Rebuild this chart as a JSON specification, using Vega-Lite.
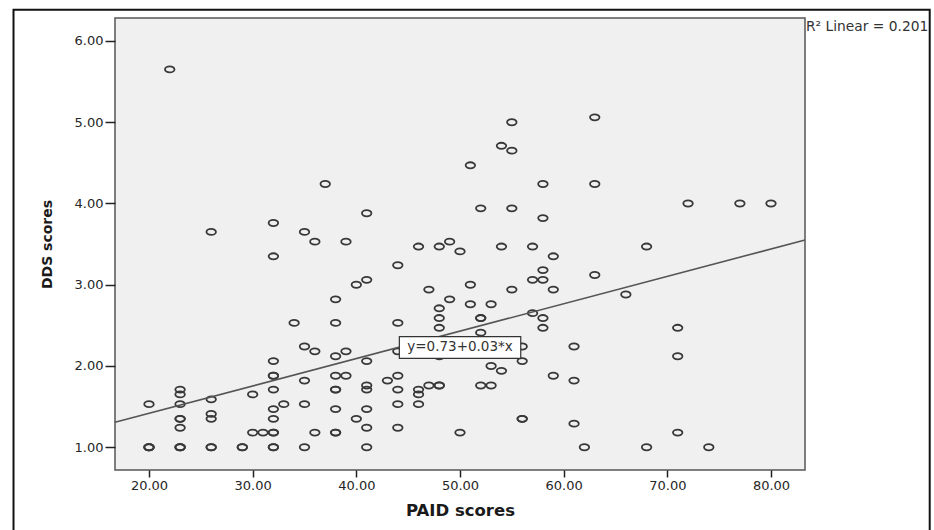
{
  "$schema": "https://vega.github.io/schema/vega-lite/v6.json",
  "autosize": {"type": "none"},
  "width": 690,
  "height": 452,
  "padding": {"left": 115, "top": 18, "right": 129, "bottom": 60},
  "background": "white",
  "config": {
    "view": {"fill": "#f0f0f0", "stroke": "#555555", "strokeWidth": 1.5},
    "font": "DejaVu Sans"
  },
  "datasets": {
    "points": [
      {"PAID": 22, "DDS": 5.65}, {"PAID": 37, "DDS": 4.24}, {"PAID": 32, "DDS": 3.76}, {"PAID": 26, "DDS": 3.65},
      {"PAID": 35, "DDS": 3.65}, {"PAID": 36, "DDS": 3.53}, {"PAID": 39, "DDS": 3.53}, {"PAID": 55, "DDS": 5.0},
      {"PAID": 54, "DDS": 4.71}, {"PAID": 55, "DDS": 4.65}, {"PAID": 51, "DDS": 4.47}, {"PAID": 58, "DDS": 4.24},
      {"PAID": 41, "DDS": 3.88}, {"PAID": 52, "DDS": 3.94}, {"PAID": 55, "DDS": 3.94}, {"PAID": 58, "DDS": 3.82},
      {"PAID": 46, "DDS": 3.47}, {"PAID": 48, "DDS": 3.47}, {"PAID": 49, "DDS": 3.53}, {"PAID": 50, "DDS": 3.41},
      {"PAID": 54, "DDS": 3.47}, {"PAID": 57, "DDS": 3.47}, {"PAID": 63, "DDS": 5.06}, {"PAID": 63, "DDS": 4.24},
      {"PAID": 72, "DDS": 4.0}, {"PAID": 77, "DDS": 4.0}, {"PAID": 80, "DDS": 4.0}, {"PAID": 68, "DDS": 3.47},
      {"PAID": 32, "DDS": 3.35}, {"PAID": 38, "DDS": 2.82}, {"PAID": 34, "DDS": 2.53}, {"PAID": 38, "DDS": 2.53},
      {"PAID": 35, "DDS": 2.24}, {"PAID": 36, "DDS": 2.18}, {"PAID": 38, "DDS": 2.12}, {"PAID": 39, "DDS": 2.18},
      {"PAID": 32, "DDS": 2.06}, {"PAID": 32, "DDS": 1.88}, {"PAID": 32, "DDS": 1.88}, {"PAID": 35, "DDS": 1.82},
      {"PAID": 38, "DDS": 1.88}, {"PAID": 39, "DDS": 1.88}, {"PAID": 38, "DDS": 1.71}, {"PAID": 38, "DDS": 1.71},
      {"PAID": 23, "DDS": 1.71}, {"PAID": 23, "DDS": 1.65}, {"PAID": 23, "DDS": 1.53}, {"PAID": 20, "DDS": 1.53},
      {"PAID": 26, "DDS": 1.59}, {"PAID": 30, "DDS": 1.65}, {"PAID": 32, "DDS": 1.71}, {"PAID": 33, "DDS": 1.53},
      {"PAID": 35, "DDS": 1.53}, {"PAID": 32, "DDS": 1.47}, {"PAID": 38, "DDS": 1.47}, {"PAID": 23, "DDS": 1.35},
      {"PAID": 23, "DDS": 1.35}, {"PAID": 26, "DDS": 1.41}, {"PAID": 26, "DDS": 1.35}, {"PAID": 32, "DDS": 1.35},
      {"PAID": 23, "DDS": 1.24}, {"PAID": 30, "DDS": 1.18}, {"PAID": 31, "DDS": 1.18}, {"PAID": 32, "DDS": 1.18},
      {"PAID": 32, "DDS": 1.18}, {"PAID": 36, "DDS": 1.18}, {"PAID": 38, "DDS": 1.18}, {"PAID": 38, "DDS": 1.18},
      {"PAID": 20, "DDS": 1.0}, {"PAID": 20, "DDS": 1.0}, {"PAID": 20, "DDS": 1.0}, {"PAID": 23, "DDS": 1.0},
      {"PAID": 23, "DDS": 1.0}, {"PAID": 23, "DDS": 1.0}, {"PAID": 26, "DDS": 1.0}, {"PAID": 26, "DDS": 1.0},
      {"PAID": 29, "DDS": 1.0}, {"PAID": 29, "DDS": 1.0}, {"PAID": 32, "DDS": 1.0}, {"PAID": 32, "DDS": 1.0},
      {"PAID": 35, "DDS": 1.0}, {"PAID": 59, "DDS": 3.35}, {"PAID": 44, "DDS": 3.24}, {"PAID": 58, "DDS": 3.18},
      {"PAID": 57, "DDS": 3.06}, {"PAID": 58, "DDS": 3.06}, {"PAID": 41, "DDS": 3.06}, {"PAID": 40, "DDS": 3.0},
      {"PAID": 51, "DDS": 3.0}, {"PAID": 47, "DDS": 2.94}, {"PAID": 55, "DDS": 2.94}, {"PAID": 59, "DDS": 2.94},
      {"PAID": 49, "DDS": 2.82}, {"PAID": 51, "DDS": 2.76}, {"PAID": 53, "DDS": 2.76}, {"PAID": 48, "DDS": 2.71},
      {"PAID": 48, "DDS": 2.59}, {"PAID": 52, "DDS": 2.59}, {"PAID": 52, "DDS": 2.59}, {"PAID": 57, "DDS": 2.65},
      {"PAID": 58, "DDS": 2.59}, {"PAID": 58, "DDS": 2.47}, {"PAID": 48, "DDS": 2.47}, {"PAID": 52, "DDS": 2.41},
      {"PAID": 44, "DDS": 2.53}, {"PAID": 41, "DDS": 2.06}, {"PAID": 44, "DDS": 2.18}, {"PAID": 48, "DDS": 2.12},
      {"PAID": 56, "DDS": 2.24}, {"PAID": 56, "DDS": 2.06}, {"PAID": 53, "DDS": 2.0}, {"PAID": 54, "DDS": 1.94},
      {"PAID": 44, "DDS": 1.88}, {"PAID": 43, "DDS": 1.82}, {"PAID": 59, "DDS": 1.88}, {"PAID": 61, "DDS": 1.82},
      {"PAID": 41, "DDS": 1.76}, {"PAID": 41, "DDS": 1.71}, {"PAID": 44, "DDS": 1.71}, {"PAID": 46, "DDS": 1.71},
      {"PAID": 47, "DDS": 1.76}, {"PAID": 48, "DDS": 1.76}, {"PAID": 48, "DDS": 1.76}, {"PAID": 52, "DDS": 1.76},
      {"PAID": 53, "DDS": 1.76}, {"PAID": 46, "DDS": 1.65}, {"PAID": 41, "DDS": 1.47}, {"PAID": 44, "DDS": 1.53},
      {"PAID": 46, "DDS": 1.53}, {"PAID": 40, "DDS": 1.35}, {"PAID": 56, "DDS": 1.35}, {"PAID": 56, "DDS": 1.35},
      {"PAID": 61, "DDS": 1.29}, {"PAID": 41, "DDS": 1.24}, {"PAID": 44, "DDS": 1.24}, {"PAID": 50, "DDS": 1.18},
      {"PAID": 41, "DDS": 1.0}, {"PAID": 63, "DDS": 3.12}, {"PAID": 66, "DDS": 2.88}, {"PAID": 71, "DDS": 2.47},
      {"PAID": 71, "DDS": 2.12}, {"PAID": 61, "DDS": 2.24}, {"PAID": 71, "DDS": 1.18}, {"PAID": 62, "DDS": 1.0},
      {"PAID": 68, "DDS": 1.0}, {"PAID": 74, "DDS": 1.0}
    ],
    "fit": [
      {"PAID": 16.72, "DDS": 1.307},
      {"PAID": 83.28, "DDS": 3.551}
    ],
    "frame": [
      {"PAID": 6.93, "PAID2": 95.31, "DDS": 6.385, "DDS2": -0.5}
    ],
    "eqbox": [
      {"PAID": 44.15, "PAID2": 55.86, "DDS": 2.361, "DDS2": 2.095, "label": "y=0.73+0.03*x", "cx": 50.0, "cy": 2.228}
    ],
    "rsq": [
      {"PAID": 83.38, "DDS": 6.17, "label": "R² Linear = 0.201"}
    ]
  },
  "layer": [
    {
      "data": {"name": "frame"},
      "mark": {"type": "rect", "fill": null, "stroke": "#111111", "strokeWidth": 2, "clip": false},
      "encoding": {
        "x": {"field": "PAID", "type": "quantitative"},
        "x2": {"field": "PAID2"},
        "y": {"field": "DDS", "type": "quantitative"},
        "y2": {"field": "DDS2"}
      }
    },
    {
      "data": {"name": "points"},
      "mark": {
        "type": "point",
        "shape": "M -1 0 A 1 0.64 0 1 1 1 0 A 1 0.64 0 1 1 -1 0 Z",
        "size": 90,
        "filled": false,
        "stroke": "#383838",
        "strokeWidth": 1.8,
        "opacity": 1
      },
      "encoding": {
        "x": {
          "field": "PAID", "type": "quantitative",
          "scale": {"domain": [16.72, 83.28], "nice": false, "zero": false},
          "axis": {
            "title": "PAID scores",
            "values": [20, 30, 40, 50, 60, 70, 80],
            "format": ".2f",
            "domain": false, "grid": false,
            "labelFont": "DejaVu Sans", "labelFontSize": 13, "labelColor": "#262626", "labelPadding": 2,
            "tickColor": "#222222", "tickSize": 7, "tickWidth": 1.5,
            "titleFont": "DejaVu Sans", "titleFontWeight": "bold", "titleFontSize": 16.5, "titleColor": "#1a1a1a", "titlePadding": 10
          }
        },
        "y": {
          "field": "DDS", "type": "quantitative",
          "scale": {"domain": [0.72, 6.283], "nice": false, "zero": false},
          "axis": {
            "title": "DDS scores",
            "values": [1, 2, 3, 4, 5, 6],
            "format": ".2f",
            "domain": false, "grid": false,
            "labelFont": "DejaVu Sans", "labelFontSize": 13, "labelColor": "#262626", "labelPadding": 2,
            "tickColor": "#222222", "tickSize": 10, "tickWidth": 1.5,
            "titleFont": "DejaVu Sans", "titleFontWeight": "bold", "titleFontSize": 14, "titleColor": "#1a1a1a", "titlePadding": 20
          }
        }
      }
    },
    {
      "data": {"name": "fit"},
      "mark": {"type": "line", "stroke": "#555555", "strokeWidth": 1.6},
      "encoding": {
        "x": {"field": "PAID", "type": "quantitative"},
        "y": {"field": "DDS", "type": "quantitative"}
      }
    },
    {
      "data": {"name": "eqbox"},
      "mark": {"type": "rect", "fill": "white", "stroke": "#333333", "strokeWidth": 1.2},
      "encoding": {
        "x": {"field": "PAID", "type": "quantitative"},
        "x2": {"field": "PAID2"},
        "y": {"field": "DDS", "type": "quantitative"},
        "y2": {"field": "DDS2"}
      }
    },
    {
      "data": {"name": "eqbox"},
      "mark": {"type": "text", "font": "DejaVu Sans", "fontSize": 13.5, "color": "#333333", "align": "center", "baseline": "middle"},
      "encoding": {
        "x": {"field": "cx", "type": "quantitative"},
        "y": {"field": "cy", "type": "quantitative"},
        "text": {"field": "label"}
      }
    },
    {
      "data": {"name": "rsq"},
      "mark": {"type": "text", "font": "DejaVu Sans", "fontSize": 13.8, "color": "#333333", "align": "left", "baseline": "middle"},
      "encoding": {
        "x": {"field": "PAID", "type": "quantitative"},
        "y": {"field": "DDS", "type": "quantitative"},
        "text": {"field": "label"}
      }
    }
  ]
}
